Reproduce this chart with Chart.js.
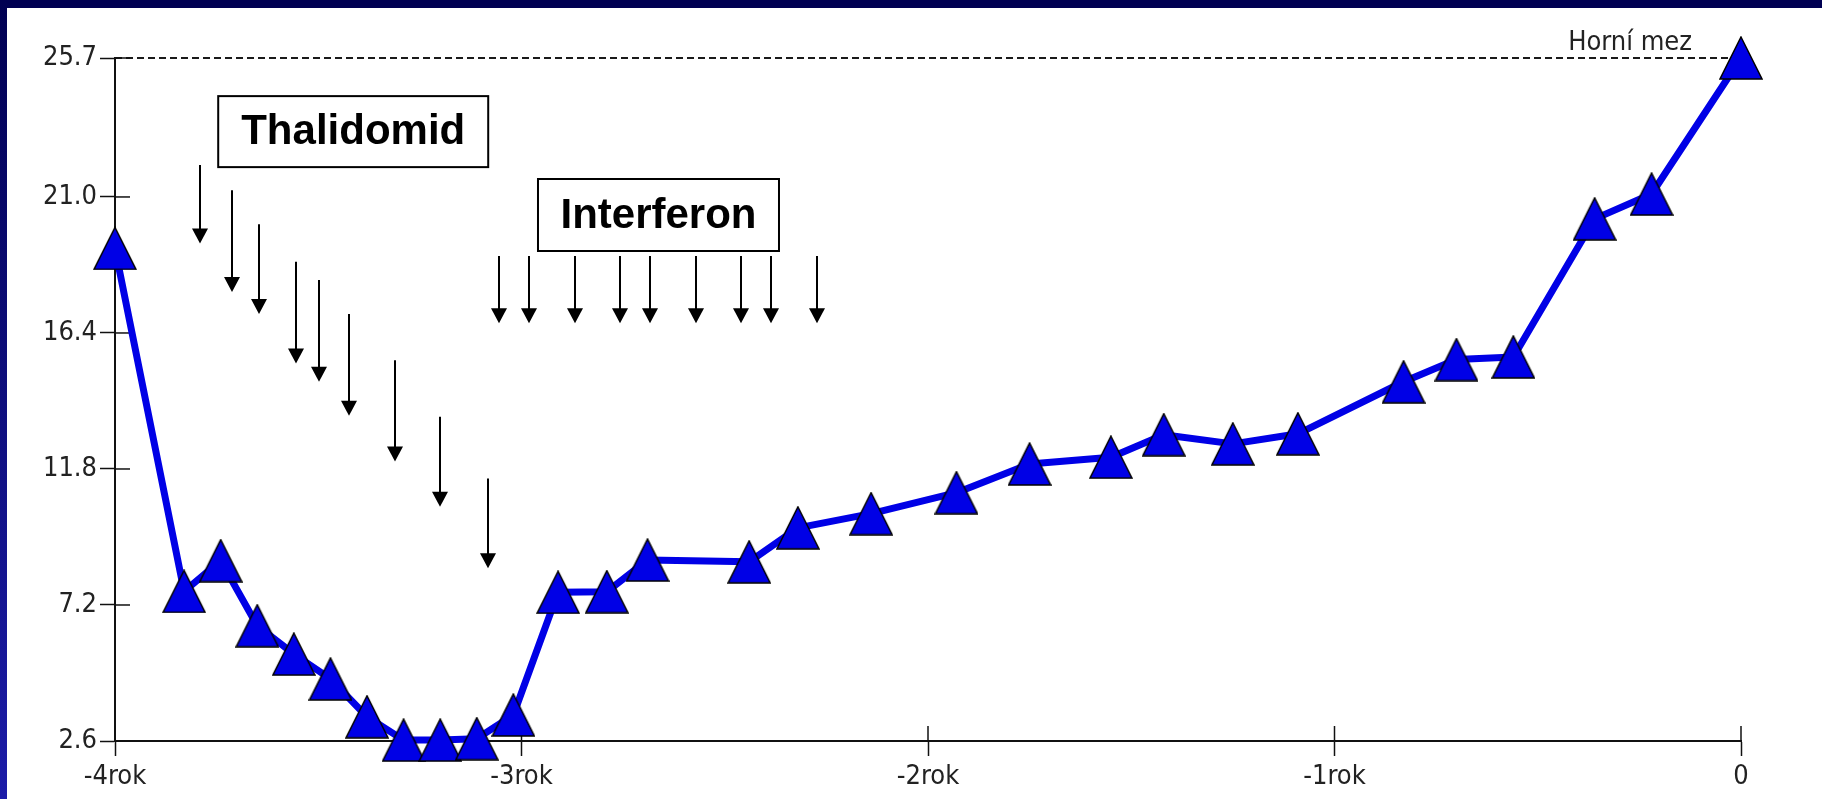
<!DOCTYPE html>
<html>
<head>
<meta charset="utf-8">
<title>Horní mez</title>
<script src="https://cdn.jsdelivr.net/npm/chart.js@4.4.1/dist/chart.umd.min.js"></script>
<style>
  html, body { margin: 0; padding: 0; background: #fff; overflow: hidden; }
  #wrap { position: relative; width: 1822px; height: 799px; }
  #chart { position: absolute; left: 0; top: 0; }
  #topband { position: absolute; left: 0; top: 0; width: 1822px; height: 8px; background: #000052; }
  #leftband { position: absolute; left: 0; top: 0; width: 7px; height: 799px; background: linear-gradient(#000052, #1c1ca8); }
</style>
</head>
<body>
<div id="wrap">
  <canvas id="chart" width="1822" height="799"></canvas>
  <div id="topband"></div>
  <div id="leftband"></div>
</div>
<script>
// measurements (years before now, value)
const times = [-4.00, -3.83, -3.74, -3.65, -3.56, -3.47, -3.38, -3.29, -3.20, -3.11,
  -3.02, -2.91, -2.79, -2.69, -2.44, -2.32, -2.14, -1.93, -1.75, -1.55,
  -1.42, -1.25, -1.09, -0.83, -0.70, -0.56, -0.36, -0.22, 0];
const values = [19.26, 7.66, 8.70, 6.50, 5.54, 4.70, 3.42, 2.63, 2.63, 2.68,
  3.48, 7.63, 7.65, 8.72, 8.66, 9.81, 10.29, 11.00, 11.97, 12.20,
  12.96, 12.65, 12.99, 14.75, 15.50, 15.59, 20.26, 21.10, 25.7];

const yTickValues = [2.6, 7.2, 11.8, 16.4, 21.0, 25.7];
const xTickValues = [-4, -3, -2, -1, 0];
const xTickLabels = ['-4rok', '-3rok', '-2rok', '-1rok', '0'];
const upperLimit = 25.7;

// treatment doses (arrows): time, arrow top, arrow tip
const thalidomidX = [-3.790, -3.711, -3.646, -3.554, -3.497, -3.424, -3.311, -3.201, -3.082];
const thalidomidTop = [22.08, 21.23, 20.08, 18.81, 18.19, 17.04, 15.48, 13.57, 11.48];
const thalidomidTip = [19.43, 17.79, 17.04, 15.37, 14.75, 13.60, 12.05, 10.52, 8.44];
const interferonX = [-3.055, -2.981, -2.868, -2.757, -2.683, -2.571, -2.459, -2.386, -2.274];
const interferonTop = 19.0;
const interferonTip = 16.73;

const labelBoxes = [
  { text: 'Thalidomid', x: -3.414, y: 23.21, w: 270, h: 71 },
  { text: 'Interferon', x: -2.663, y: 20.39, w: 241, h: 72 }
];

// triangle marker
function makeTriangle() {
  const c = document.createElement('canvas');
  c.width = 44;
  c.height = 44;
  const g = c.getContext('2d');
  g.beginPath();
  g.moveTo(22, 1);
  g.lineTo(43, 43);
  g.lineTo(1, 43);
  g.closePath();
  g.fillStyle = '#0000e6';
  g.fill();
  g.lineWidth = 1.5;
  g.strokeStyle = '#000';
  g.stroke();
  return c;
}

function drawArrow(ctx, x, yTop, yTip) {
  ctx.beginPath();
  ctx.moveTo(x, yTop);
  ctx.lineTo(x, yTip - 12);
  ctx.stroke();
  ctx.beginPath();
  ctx.moveTo(x - 8, yTip - 15);
  ctx.lineTo(x + 8, yTip - 15);
  ctx.lineTo(x, yTip);
  ctx.closePath();
  ctx.fill();
}

const extras = {
  id: 'extras',
  beforeDatasetsDraw(chart) {
    const ctx = chart.ctx;
    const xs = chart.scales.x, ys = chart.scales.y;
    const area = chart.chartArea;
    ctx.save();
    // upper limit dashed line
    const yl = ys.getPixelForValue(upperLimit);
    ctx.strokeStyle = '#1a1a1a';
    ctx.lineWidth = 2;
    ctx.setLineDash([7, 4]);
    ctx.beginPath();
    ctx.moveTo(area.left, yl);
    ctx.lineTo(area.right, yl);
    ctx.stroke();
    ctx.setLineDash([]);
    ctx.fillStyle = '#222';
    ctx.font = '27px "DejaVu Sans Condensed", "DejaVu Sans"';
    ctx.textAlign = 'right';
    ctx.textBaseline = 'alphabetic';
    ctx.fillText('Horní mez', area.right - 49, yl - 8);

    // inner halves of tick marks
    ctx.strokeStyle = '#111';
    ctx.lineWidth = 1.5;
    xTickValues.forEach(v => {
      const px = xs.getPixelForValue(v);
      ctx.beginPath();
      ctx.moveTo(px, area.bottom);
      ctx.lineTo(px, area.bottom - 15);
      ctx.stroke();
    });
    yTickValues.forEach(v => {
      const py = ys.getPixelForValue(v);
      ctx.beginPath();
      ctx.moveTo(area.left, py);
      ctx.lineTo(area.left + 15, py);
      ctx.stroke();
    });

    // arrows
    ctx.strokeStyle = '#000';
    ctx.fillStyle = '#000';
    ctx.lineWidth = 2;
    thalidomidX.forEach((t, i) => {
      drawArrow(ctx, Math.round(xs.getPixelForValue(t)), ys.getPixelForValue(thalidomidTop[i]), ys.getPixelForValue(thalidomidTip[i]));
    });
    interferonX.forEach(t => {
      drawArrow(ctx, Math.round(xs.getPixelForValue(t)), ys.getPixelForValue(interferonTop), ys.getPixelForValue(interferonTip));
    });

    // label boxes
    labelBoxes.forEach(b => {
      const cx = xs.getPixelForValue(b.x), cy = ys.getPixelForValue(b.y);
      ctx.fillStyle = '#fff';
      ctx.fillRect(cx - b.w / 2, cy - b.h / 2, b.w, b.h);
      ctx.strokeStyle = '#000';
      ctx.lineWidth = 2;
      ctx.strokeRect(cx - b.w / 2, cy - b.h / 2, b.w, b.h);
      ctx.fillStyle = '#000';
      ctx.font = 'bold 42px "Liberation Sans", Arial, sans-serif';
      ctx.textAlign = 'center';
      ctx.textBaseline = 'middle';
      ctx.fillText(b.text, cx, cy + 1);
    });
    ctx.restore();
  }
};

const tickFont = { family: '"DejaVu Sans Condensed", "DejaVu Sans"', size: 27 };

new Chart(document.getElementById('chart'), {
  type: 'line',
  data: {
    datasets: [{
      data: times.map((t, i) => ({ x: t, y: values[i] })),
      borderColor: '#0000e6',
      borderWidth: 7,
      borderJoinStyle: 'round',
      tension: 0,
      pointStyle: makeTriangle(),
      pointRadius: 21,
      pointHoverRadius: 21,
      clip: false
    }]
  },
  options: {
    responsive: false,
    animation: false,
    events: [],
    layout: { padding: { top: 58, right: 81, left: 0, bottom: 0 } },
    plugins: { legend: { display: false }, tooltip: { enabled: false } },
    scales: {
      x: {
        type: 'linear',
        min: -4,
        max: 0,
        afterBuildTicks: s => { s.ticks = xTickValues.map(v => ({ value: v })); },
        afterFit: s => { s.height = 58; },
        ticks: {
          callback: v => xTickLabels[xTickValues.indexOf(v)],
          font: tickFont,
          color: '#222',
          padding: 5,
          maxRotation: 0,
          autoSkip: false
        },
        grid: { drawOnChartArea: false, tickLength: 15, tickColor: '#111', tickWidth: 1.5 },
        border: { display: true, color: '#111', width: 2 }
      },
      y: {
        type: 'linear',
        min: 2.6,
        max: 25.7,
        afterBuildTicks: s => { s.ticks = yTickValues.map(v => ({ value: v })); },
        afterFit: s => { s.width = 115; },
        ticks: {
          callback: v => v.toFixed(1),
          font: tickFont,
          color: '#222',
          padding: 3,
          autoSkip: false
        },
        grid: { drawOnChartArea: false, tickLength: 15, tickColor: '#111', tickWidth: 1.5 },
        border: { display: true, color: '#111', width: 2 }
      }
    }
  },
  plugins: [extras]
});
</script>
</body>
</html>
